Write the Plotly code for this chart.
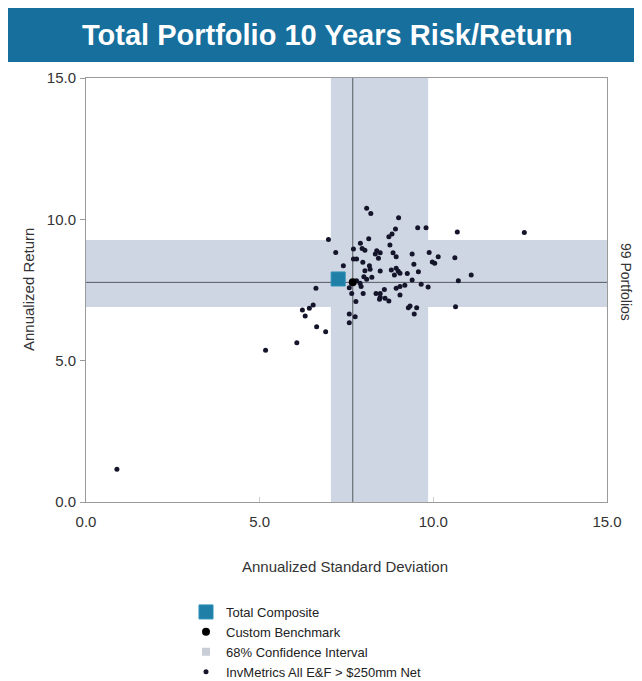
import plotly.graph_objects as go

# InvMetrics All E&F > $250mm Net universe (annualized std dev, annualized return)
peer_sd = [8.08, 8.20, 9.00, 6.98, 9.55, 9.79, 10.69, 8.91, 8.81, 8.72, 8.14, 7.90, 8.75, 7.95, 8.03,
           7.70, 7.19, 8.37, 8.47, 8.33, 8.84, 8.93, 9.39, 9.88, 10.14, 10.62, 8.42, 7.70, 7.79, 9.97,
           10.04, 9.44, 7.97, 8.16, 7.41, 8.93, 8.79, 8.99, 8.47, 8.03, 8.18, 9.57, 9.04, 8.88, 9.25,
           11.09, 8.00, 8.23, 9.39, 10.72, 8.08, 7.79, 7.89, 7.58, 9.65, 9.85, 9.18, 8.93, 9.04, 6.62,
           7.92, 7.65, 7.98, 8.35, 8.47, 8.59, 8.47, 8.61, 8.45, 8.72, 9.04, 7.77, 9.33, 9.28, 9.52,
           10.64, 9.45, 7.58, 7.75, 7.58, 6.54, 6.43, 6.23, 6.31, 6.64, 6.90, 6.07, 5.17, 0.89, 12.62]
peer_ret = [10.39, 10.21, 10.06, 9.29, 9.70, 9.70, 9.55, 9.66, 9.48, 9.38, 9.31, 9.15, 9.09, 8.97, 8.91,
            8.95, 8.83, 8.89, 8.82, 8.77, 8.82, 8.68, 8.77, 8.83, 8.68, 8.64, 8.62, 8.60, 8.60, 8.49,
            8.45, 8.41, 8.48, 8.36, 8.36, 8.27, 8.21, 8.16, 8.17, 8.18, 8.23, 8.15, 8.09, 8.03, 8.08,
            8.03, 7.97, 7.95, 7.85, 7.83, 7.88, 7.83, 7.74, 7.58, 7.70, 7.61, 7.67, 7.56, 7.62, 7.56,
            7.62, 7.38, 7.38, 7.38, 7.38, 7.52, 7.24, 7.21, 7.17, 7.11, 7.32, 7.09, 6.93, 6.87, 6.87,
            6.91, 6.65, 6.65, 6.55, 6.34, 6.97, 6.85, 6.79, 6.58, 6.20, 6.02, 5.63, 5.37, 1.16, 9.53]

composite_sd = [7.26]
composite_ret = [7.89]
benchmark_sd = [7.68]
benchmark_ret = [7.77]

ci_sd = [7.05, 9.85]     # 68% confidence interval of std dev
ci_ret = [6.90, 9.27]    # 68% confidence interval of return
axis_range = [0.0, 15.0]
tick_vals = [0.0, 5.0, 10.0, 15.0]
tick_text = ["0.0", "5.0", "10.0", "15.0"]

band = "#cdd6e2"
fig = go.Figure()
# vertical band
fig.add_trace(go.Scatter(
    x=[ci_sd[0], ci_sd[1], ci_sd[1], ci_sd[0], ci_sd[0]],
    y=[axis_range[0], axis_range[0], axis_range[1], axis_range[1], axis_range[0]],
    fill="toself", fillcolor=band, mode="lines", line=dict(width=0, color=band),
    showlegend=False, hoverinfo="skip"))
# horizontal band
fig.add_trace(go.Scatter(
    x=[axis_range[0], axis_range[1], axis_range[1], axis_range[0], axis_range[0]],
    y=[ci_ret[0], ci_ret[0], ci_ret[1], ci_ret[1], ci_ret[0]],
    fill="toself", fillcolor=band, mode="lines", line=dict(width=0, color=band),
    showlegend=False, hoverinfo="skip"))
# benchmark crosshair
fig.add_trace(go.Scatter(x=[benchmark_sd[0], benchmark_sd[0]], y=axis_range, mode="lines",
                         line=dict(color="#555a60", width=1), showlegend=False, hoverinfo="skip"))
fig.add_trace(go.Scatter(x=axis_range, y=[benchmark_ret[0], benchmark_ret[0]], mode="lines",
                         line=dict(color="#555a60", width=1), showlegend=False, hoverinfo="skip"))

fig.add_trace(go.Scatter(x=peer_sd, y=peer_ret, mode="markers",
                         marker=dict(color="#14142a", size=5),
                         name="InvMetrics All E&F > $250mm Net", legendrank=4))
fig.add_trace(go.Scatter(x=benchmark_sd, y=benchmark_ret, mode="markers",
                         marker=dict(color="#000000", size=8),
                         name="Custom Benchmark", legendrank=2))
fig.add_trace(go.Scatter(x=composite_sd, y=composite_ret, mode="markers",
                         marker=dict(color="#1f7fa6", size=14, symbol="square",
                                     line=dict(color="#2a8fb8", width=1)),
                         name="Total Composite", legendrank=1))
# legend entry for the confidence interval bands
fig.add_trace(go.Scatter(x=[None], y=[None], mode="markers",
                         marker=dict(color="#c9ced6", size=8, symbol="square"),
                         name="68% Confidence Interval", legendrank=3))

# page has an 8px body margin: figure pixel = reference pixel - 8
OFF = 8
W, H = 634, 673
L, T = 86 - OFF, 78 - OFF
R = W - (607 - OFF)
B = H - (502 - OFF)
pw, ph = W - L - R, H - T - B
def px(xp): return (xp - OFF - L) / pw
def py(yp): return (H - B - (yp - OFF)) / ph

fig.update_layout(
    width=W, height=H, margin=dict(l=L, r=R, t=T, b=B, autoexpand=False),
    paper_bgcolor="white", plot_bgcolor="white",
    font=dict(family="Liberation Sans, Arial, sans-serif", size=15, color="#333333"),
    showlegend=True,
    legend=dict(x=px(186), y=py(597), xanchor="left", yanchor="top",
                font=dict(size=13, color="#222222"), itemsizing="trace",
                tracegroupgap=0, bgcolor="rgba(0,0,0,0)", traceorder="normal"),
    xaxis=dict(range=axis_range, tickvals=tick_vals, ticktext=tick_text, showgrid=False,
               zeroline=False, showline=True, linecolor="#9a9a9a", linewidth=1, mirror=True,
               ticks="inside", ticklen=5, tickcolor="#cccccc", ticklabelstandoff=6),
    yaxis=dict(range=axis_range, tickvals=tick_vals, ticktext=tick_text, showgrid=False,
               zeroline=False, showline=True, linecolor="#9a9a9a", linewidth=1, mirror=True,
               ticks="outside", ticklen=5, tickcolor="#9a9a9a", ticklabelstandoff=1),
    shapes=[dict(type="rect", xref="paper", yref="paper", x0=px(0), x1=px(636),
                 y0=py(62), y1=py(0), fillcolor="#176f9e", line=dict(width=0), layer="below")],
    annotations=[
        dict(text="<b>Total Portfolio 10 Years Risk/Return</b>", xref="paper", yref="paper",
             x=px(327), y=py(35), showarrow=False, xanchor="center", yanchor="middle",
             font=dict(family="Liberation Sans, Arial", size=29, color="white")),
        dict(text="Annualized Standard Deviation", xref="paper", yref="paper",
             x=px(345), y=py(566), showarrow=False, xanchor="center", yanchor="middle",
             font=dict(size=15, color="#333333")),
        dict(text="Annualized Return", xref="paper", yref="paper", textangle=-90,
             x=px(28), y=py(290), showarrow=False, xanchor="center", yanchor="middle",
             font=dict(size=15, color="#333333")),
        dict(text="99 Portfolios", xref="paper", yref="paper", textangle=90,
             x=px(626), y=py(282), showarrow=False, xanchor="center", yanchor="middle",
             font=dict(size=14, color="#333333")),
    ],
)
fig.write_html("out.html")
